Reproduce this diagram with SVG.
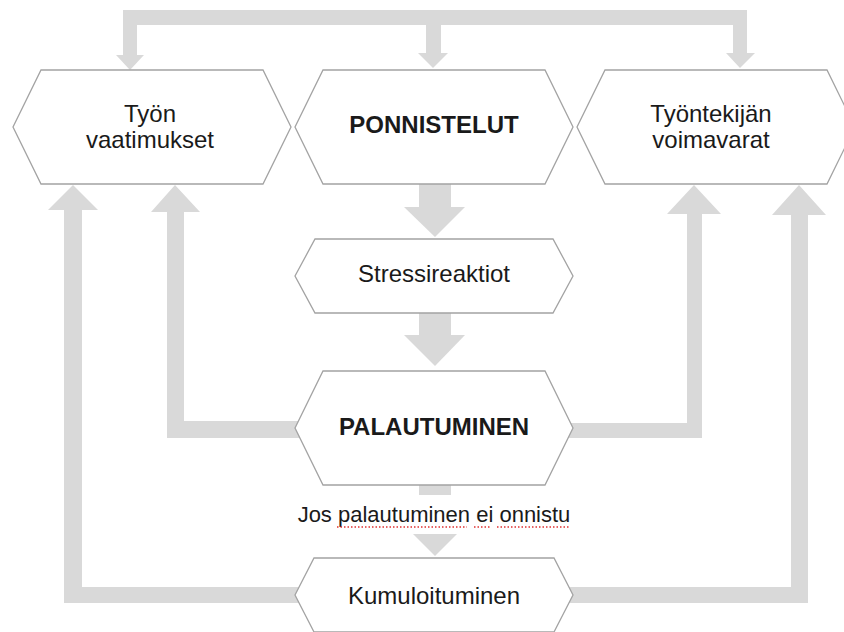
<svg xmlns="http://www.w3.org/2000/svg" width="844" height="632" viewBox="0 0 844 632">
<style>
.c{fill:#d9d9d9;stroke:none}
.n{fill:#fff;stroke:#a3a3a3;stroke-width:1.3}
.t{font-family:"Liberation Sans",Arial,sans-serif;font-size:24px;fill:#1a1a1a;text-anchor:middle}
.b{font-weight:bold}
.l{font-family:"Liberation Sans",Arial,sans-serif;font-size:22px;fill:#1a1a1a;text-anchor:middle}
.sq{stroke:#e03030;stroke-width:1.5;stroke-dasharray:1.5 2;fill:none}
</style>
<rect width="844" height="632" fill="#fff"/>
<g id="connectors">
  <rect class="c" x="123" y="10" width="624" height="15"/>
  <rect class="c" x="123" y="10" width="14" height="46"/>
  <polygon class="c" points="116,55 144,55 130,70"/>
  <rect class="c" x="426" y="24" width="15" height="30"/>
  <polygon class="c" points="418,53 448,53 433,68"/>
  <rect class="c" x="733" y="10" width="14" height="44"/>
  <polygon class="c" points="726,53 755,53 740,68"/>
  <rect class="c" x="419" y="183" width="32" height="25"/>
  <polygon class="c" points="404,207 465,207 435,237"/>
  <rect class="c" x="419" y="312" width="32" height="24"/>
  <polygon class="c" points="404,335 465,335 435,366"/>
  <rect class="c" x="419" y="484" width="32" height="11"/>
  <polygon class="c" points="413,534 457,534 435,556"/>
  <polygon class="c" points="175,185 200,212 184,212 184,421 310,421 310,438 167,438 167,212 151,212"/>
  <polygon class="c" points="73,185 98,210 82,210 82,587 310,587 310,603 64,603 64,210 48,210"/>
  <polygon class="c" points="694,185 721,214 702,214 702,438 560,438 560,423 687,423 687,214 667,214"/>
  <polygon class="c" points="799,185 826,215 808,215 808,603 560,603 560,587 791,587 791,215 772,215"/>
</g>
<g id="tyon-vaatimukset">
  <polygon class="n" points="13,127 41,70 263,70 291,127 263,184 41,184"/>
  <text class="t" x="150" y="122">Työn</text>
  <text class="t" x="150" y="148">vaatimukset</text>
</g>
<g id="ponnistelut">
  <polygon class="n" points="295,127 323,70 545,70 573,127 545,184 323,184"/>
  <text class="t b" x="434" y="133">PONNISTELUT</text>
</g>
<g id="tyontekijan-voimavarat">
  <polygon class="n" points="577,127 605,70 827,70 855,127 827,184 605,184"/>
  <text class="t" x="711" y="122">Työntekijän</text>
  <text class="t" x="711" y="148">voimavarat</text>
</g>
<g id="stressireaktiot">
  <polygon class="n" points="295,276 315,239 553,239 573,276 553,313 315,313"/>
  <text class="t" x="434" y="282">Stressireaktiot</text>
</g>
<g id="palautuminen">
  <polygon class="n" points="295,428 323,371 545,371 573,428 545,485 323,485"/>
  <text class="t b" x="434" y="435">PALAUTUMINEN</text>
</g>
<g id="label">
  <text class="l" x="434" y="522">Jos palautuminen ei onnistu</text>
  <line class="sq" x1="337" y1="527" x2="467" y2="527"/>
  <line class="sq" x1="474" y1="527" x2="490" y2="527"/>
  <line class="sq" x1="497" y1="527" x2="569" y2="527"/>
</g>
<g id="kumuloituminen">
  <polygon class="n" points="295,595 314,558 554,558 573,595 554,632 314,632"/>
  <text class="t" x="434" y="604">Kumuloituminen</text>
</g>
</svg>
